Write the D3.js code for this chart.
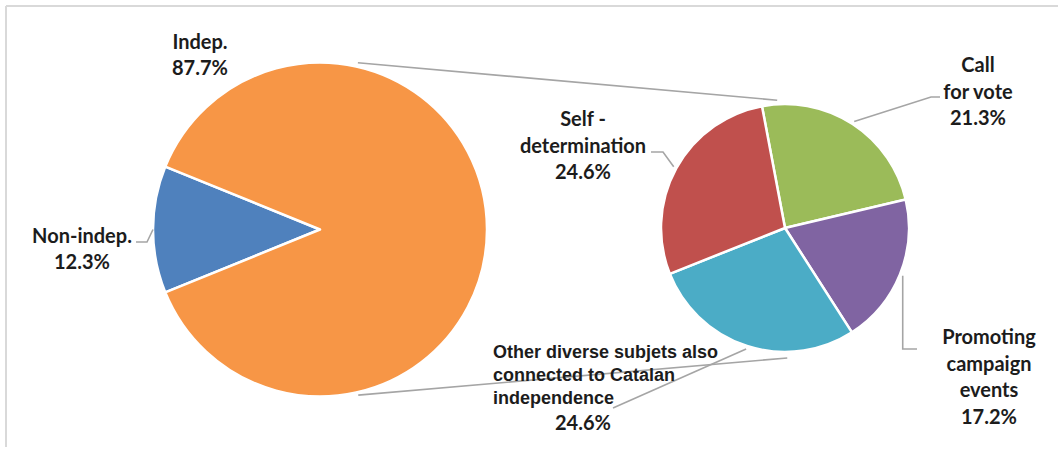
<!DOCTYPE html>
<html>
<head>
<meta charset="utf-8">
<script src="https://cdn.jsdelivr.net/npm/d3@7"></script>
<style>
  html, body { margin: 0; padding: 0; background: #fff; }
  svg { display: block; }
</style>
</head>
<body>
<svg id="chart" width="1058" height="450"></svg>
<script>
// ---- data ----
const mainCategories = ["Non-indep.", "Indep."];
const mainValues = [12.3, 87.7];
const mainLabelLines = [["Non-indep.", "12.3%"], ["Indep.", "87.7%"]];

const subCategories = ["Call for vote", "Promoting campaign events",
  "Other diverse subjets also connected to Catalan independence", "Self - determination"];
const subValues = [21.3, 17.2, 24.6, 24.6];
const subLabelLines = [
  ["Call", "for vote", "21.3%"],
  ["Promoting", "campaign", "events", "17.2%"],
  ["Other diverse subjets also", "connected to Catalan", "independence", "24.6%"],
  ["Self -", "determination", "24.6%"]
];

const mainColors = ["#4F81BD", "#F79646"];
const subColors = ["#9BBB59", "#8064A2", "#4BACC6", "#C0504D"];

// ---- layout ----
const W = 1058, H = 450;
const svg = d3.select("#chart");
const deg = Math.PI / 180;
const L = { cx: 320, cy: 229.5, r: 167 };
const R = { cx: 785, cy: 228, r: 124 };
const textColor = "#1c1c1c";
const lineColor = "#a5a5a5";
const fontMain = "Lato, 'Open Sans', sans-serif";
const fontAlt = "'Liberation Sans', Arial, sans-serif";

// frame (top and left edges visible)
svg.append("line").attr("x1", 6).attr("y1", 6).attr("x2", W).attr("y2", 6)
  .attr("stroke", "#d9d9d9").attr("stroke-width", 2);
svg.append("line").attr("x1", 6).attr("y1", 6).attr("x2", 6).attr("y2", 447)
  .attr("stroke", "#d9d9d9").attr("stroke-width", 2);

function polar(c, angle, rad) {
  return [c.cx + rad * Math.sin(angle), c.cy - rad * Math.cos(angle)];
}

// ---- main pie ----
const halfBlue = mainValues[0] / 100 * Math.PI;
const mainPie = d3.pie().sort(null).value(d => d)
  .startAngle(-Math.PI / 2 - halfBlue).endAngle(-Math.PI / 2 - halfBlue + 2 * Math.PI);
const mainArcs = mainPie(mainValues);
const arcL = d3.arc().innerRadius(0).outerRadius(L.r);
const gL = svg.append("g").attr("transform", `translate(${L.cx},${L.cy})`);
gL.selectAll("path").data(mainArcs).join("path")
  .attr("d", arcL).attr("fill", (d, i) => mainColors[i])
  .attr("stroke", "#fff").attr("stroke-width", 2.5).attr("stroke-linejoin", "round");

// ---- sub pie ----
const subPie = d3.pie().sort(null).value(d => d)
  .startAngle(-10.7 * deg).endAngle(-10.7 * deg + 2 * Math.PI);
const subArcs = subPie(subValues);
const arcR = d3.arc().innerRadius(0).outerRadius(R.r);
const gR = svg.append("g").attr("transform", `translate(${R.cx},${R.cy})`);
gR.selectAll("path").data(subArcs).join("path")
  .attr("d", arcR).attr("fill", (d, i) => subColors[i])
  .attr("stroke", "#fff").attr("stroke-width", 2.5).attr("stroke-linejoin", "round");

// ---- connector lines between pies ----
const connTop = [polar(L, 12.8 * deg, L.r + 4), polar(R, -3.5 * deg, R.r + 4)];
const connBot = [polar(L, 167 * deg, L.r + 3), polar(R, 179 * deg, R.r + 6)];
[connTop, connBot].forEach(pts => {
  svg.append("path").attr("d", d3.line()(pts))
    .attr("fill", "none").attr("stroke", lineColor).attr("stroke-width", 1.6);
});

// ---- labels ----
// label placement: centre x, first baseline, line height, leader text-side points
const mainLabelPos = [
  { x: 82, y: 243, lh: 26, anchor: "middle", font: fontMain, size: 20,
    leader: [[136, 242], [147, 242]] },
  { x: 200, y: 49, lh: 26, anchor: "middle", font: fontMain, size: 20, leader: null }
];
const subLabelPos = [
  { x: 978, y: 72, lh: 26.5, anchor: "middle", font: fontMain, size: 20,
    leader: [[940, 97], [931, 97]] },
  { x: 989, y: 344, lh: 26.5, anchor: "middle", font: fontMain, size: 20,
    leader: [[917, 349], [905, 349]], vertical: true },
  { x: 493, y: 358, lh: 23, anchor: "start", font: fontAlt, size: 18,
    lastX: 583, lastY: 430, lastFont: fontMain, lastSize: 20,
    leader: [[613, 408]] },
  { x: 583, y: 126, lh: 26.5, anchor: "middle", font: fontMain, size: 20,
    leader: [[651, 152], [663, 152]] }
];

function drawLabel(lines, pos) {
  const t = svg.append("g");
  lines.forEach((ln, i) => {
    const isLast = i === lines.length - 1 && pos.lastX !== undefined;
    t.append("text")
      .attr("x", isLast ? pos.lastX : pos.x)
      .attr("y", isLast ? pos.lastY : pos.y + i * pos.lh)
      .attr("text-anchor", isLast ? "middle" : pos.anchor)
      .attr("font-family", isLast ? pos.lastFont : pos.font)
      .attr("font-size", isLast ? pos.lastSize : pos.size)
      .attr("font-weight", "bold")
      .attr("fill", textColor)
      .text(ln);
  });
}

function drawLeader(c, arcDatum, pos, gap) {
  if (!pos.leader) return;
  const mid = (arcDatum.startAngle + arcDatum.endAngle) / 2;
  const edge = polar(c, mid, c.r + gap);
  let pts = pos.leader.slice();
  if (pos.vertical) {
    pts[pts.length - 1] = [edge[0], pts[pts.length - 1][1]];
  }
  pts.push(edge);
  svg.append("path").attr("d", d3.line()(pts))
    .attr("fill", "none").attr("stroke", lineColor).attr("stroke-width", 1.6);
}

mainArcs.forEach((a, i) => { drawLeader(L, a, mainLabelPos[i], 0); });
subArcs.forEach((a, i) => { drawLeader(R, a, subLabelPos[i], 3); });
mainLabelLines.forEach((lines, i) => drawLabel(lines, mainLabelPos[i]));
subLabelLines.forEach((lines, i) => drawLabel(lines, subLabelPos[i]));
</script>
</body>
</html>
